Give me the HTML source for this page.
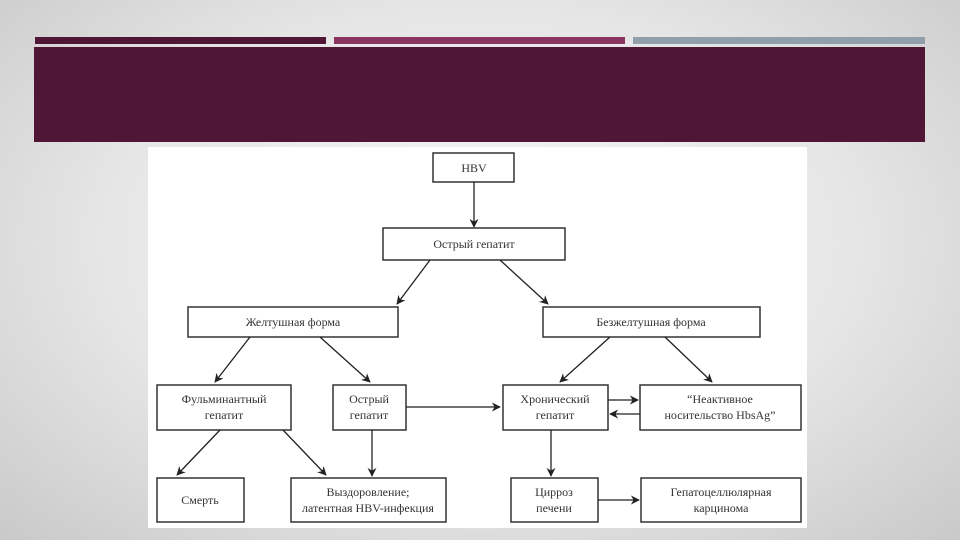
<!DOCTYPE html>
<html><head><meta charset="utf-8"><style>
body{margin:0;width:960px;height:540px;overflow:hidden;background:radial-gradient(ellipse at 50% 45%,#f6f6f6 0%,#e6e6e6 55%,#c9c9c9 100%);position:relative;font-family:"Liberation Serif",serif}
.a{position:absolute}
</style></head><body>
<div class="a" style="left:35px;top:37px;width:291px;height:7px;background:#4f1635"></div>
<div class="a" style="left:334px;top:37px;width:291px;height:7px;background:#8a3560"></div>
<div class="a" style="left:633px;top:37px;width:292px;height:7px;background:#8fa0ab"></div>
<div class="a" style="left:34px;top:47px;width:891px;height:95px;background:#4f1635"></div>
<div class="a" style="left:148px;top:147px;width:659px;height:381px;background:#fff"></div>
<svg class="a" style="left:0;top:0" width="960" height="540" viewBox="0 0 960 540">
<defs><marker id="m" viewBox="0 0 10 10" refX="9" refY="5" markerWidth="9" markerHeight="9" markerUnits="userSpaceOnUse" orient="auto"><path d="M0,0 L10,5 L0,10 L3,5z" fill="#222"/></marker></defs>
<g fill="#fff" stroke="#333" stroke-width="1.5">
<rect x="433" y="153" width="81" height="29"/>
<rect x="383" y="228" width="182" height="32"/>
<rect x="188" y="307" width="210" height="30"/>
<rect x="543" y="307" width="217" height="30"/>
<rect x="157" y="385" width="134" height="45"/>
<rect x="333" y="385" width="73" height="45"/>
<rect x="503" y="385" width="105" height="45"/>
<rect x="640" y="385" width="161" height="45"/>
<rect x="157" y="478" width="87" height="44"/>
<rect x="291" y="478" width="155" height="44"/>
<rect x="511" y="478" width="87" height="44"/>
<rect x="641" y="478" width="160" height="44"/>
</g>
<g stroke="#222" stroke-width="1.3" marker-end="url(#m)">
<line x1="474" y1="182" x2="474" y2="227"/>
<line x1="430" y1="260" x2="397" y2="304"/>
<line x1="500" y1="260" x2="548" y2="304"/>
<line x1="250" y1="337" x2="215" y2="382"/>
<line x1="320" y1="337" x2="370" y2="382"/>
<line x1="610" y1="337" x2="560" y2="382"/>
<line x1="665" y1="337" x2="712" y2="382"/>
<line x1="406" y1="407" x2="500" y2="407"/>
<line x1="608" y1="400" x2="638" y2="400"/>
<line x1="640" y1="414" x2="610" y2="414"/>
<line x1="220" y1="430" x2="177" y2="475"/>
<line x1="283" y1="430" x2="326" y2="475"/>
<line x1="372" y1="430" x2="372" y2="476"/>
<line x1="551" y1="430" x2="551" y2="476"/>
<line x1="598" y1="500" x2="639" y2="500"/>
</g>
<g font-family="Liberation Serif,serif" font-size="12" fill="#333" text-anchor="middle">
<text x="474" y="172">HBV</text>
<text x="474" y="248">Острый гепатит</text>
<text x="293" y="326">Желтушная форма</text>
<text x="651" y="326">Безжелтушная форма</text>
<text x="224" y="403">Фульминантный</text><text x="224" y="419">гепатит</text>
<text x="369" y="403">Острый</text><text x="369" y="419">гепатит</text>
<text x="555" y="403">Хронический</text><text x="555" y="419">гепатит</text>
<text x="720" y="403">“Неактивное</text><text x="720" y="419">носительство HbsAg”</text>
<text x="200" y="504">Смерть</text>
<text x="368" y="496">Выздоровление;</text><text x="368" y="512">латентная HBV-инфекция</text>
<text x="554" y="496">Цирроз</text><text x="554" y="512">печени</text>
<text x="721" y="496">Гепатоцеллюлярная</text><text x="721" y="512">карцинома</text>
</g>
</svg>
</body></html>
